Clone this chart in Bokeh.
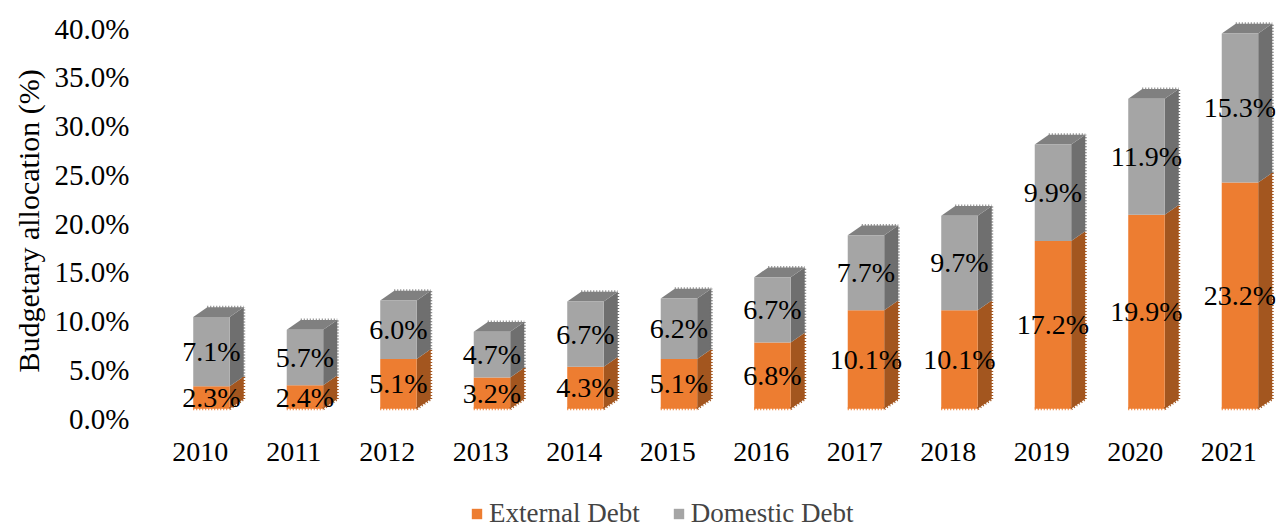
from bokeh.plotting import figure
from bokeh.models import ColumnDataSource, FixedTicker, PrintfTickFormatter, Legend, LegendItem, Title
from bokeh.core.properties import value
from bokeh.embed import file_html
from bokeh.resources import INLINE

# ---- data ----
years = ["2010", "2011", "2012", "2013", "2014", "2015", "2016", "2017", "2018", "2019", "2020", "2021"]
external = [2.3, 2.4, 5.1, 3.2, 4.3, 5.1, 6.8, 10.1, 10.1, 17.2, 19.9, 23.2]
domestic = [7.1, 5.7, 6.0, 4.7, 6.7, 6.2, 6.7, 7.7, 9.7, 9.9, 11.9, 15.3]
y_ticks = [0, 5, 10, 15, 20, 25, 30, 35, 40]

# ---- style ----
FONT = "Liberation Serif"
PX_PER_UNIT = 9.75
BASE = 1.0    # floor offset of 3D bars
OFF = 0.12    # front-face offset from slot centre
W = 0.39      # front-face width
DX = 0.15     # depth (x)
DY = 1.0      # depth (y)
YEAR_Y = -3.4  # position of category labels below the floor
ORANGE, ORANGE_SIDE = "#ED7D31", "#A3561F"
GRAY, GRAY_SIDE, GRAY_TOP = "#A5A5A5", "#6F6F6F", "#808080"

n = len(years)
xc = [i + 0.5 + OFF for i in range(n)]
left = [x - W / 2 for x in xc]
right = [x + W / 2 for x in xc]
ext_bot = [BASE] * n
ext_top = [BASE + e for e in external]
dom_bot = ext_top
dom_top = [BASE + e + d for e, d in zip(external, domestic)]

p = figure(width=1283, height=529, x_range=(0, 12),
           y_range=(-(529 - 418) / PX_PER_UNIT, 418 / PX_PER_UNIT),
           x_axis_location=None,
           output_backend="svg", toolbar_location=None,
           min_border_left=153, min_border_right=8, min_border_top=0, min_border_bottom=0)


def side(bot, top):
    xs = [[r, r + DX, r + DX, r] for r in right]
    ys = [[b, b + DY, t + DY, t] for b, t in zip(bot, top)]
    return xs, ys


xs, ys = side(ext_bot, ext_top)
p.patches(xs, ys, fill_color=ORANGE_SIDE, line_color=None)
xs, ys = side(dom_bot, dom_top)
p.patches(xs, ys, fill_color=GRAY_SIDE, line_color=None)
top_xs = [[l, l + DX, r + DX, r] for l, r in zip(left, right)]
top_ys = [[t, t + DY, t + DY, t] for t in dom_top]
p.patches(top_xs, top_ys, fill_color=GRAY_TOP, line_color=None)

r_ext = p.quad(left=left, right=right, bottom=ext_bot, top=ext_top, fill_color=ORANGE, line_color=None)
r_dom = p.quad(left=left, right=right, bottom=dom_bot, top=dom_top, fill_color=GRAY, line_color=None)

# jagged outer edges (as in the reference rendering)
DASH = dict(line_width=3, line_dash="1 2")
p.segment(x0=left, y0=ext_bot, x1=right, y1=ext_bot, line_color=ORANGE, **DASH)
p.segment(x0=right, y0=ext_bot, x1=[r + DX for r in right], y1=[b + DY for b in ext_bot],
          line_color=ORANGE_SIDE, **DASH)
p.segment(x0=[r + DX for r in right], y0=[b + DY for b in ext_bot],
          x1=[r + DX for r in right], y1=[t + DY for t in ext_top], line_color=ORANGE_SIDE, **DASH)
p.segment(x0=[r + DX for r in right], y0=[b + DY for b in dom_bot],
          x1=[r + DX for r in right], y1=[t + DY for t in dom_top], line_color=GRAY_SIDE, **DASH)
p.segment(x0=[l + DX for l in left], y0=[t + DY for t in dom_top],
          x1=[r + DX for r in right], y1=[t + DY for t in dom_top], line_color=GRAY_TOP, **DASH)

lab_src = ColumnDataSource(dict(
    x=xc + xc,
    y=[(b + t) / 2 for b, t in zip(ext_bot, ext_top)] + [(b + t) / 2 for b, t in zip(dom_bot, dom_top)],
    t=[f"{v:.1f}%" for v in external] + [f"{v:.1f}%" for v in domestic],
))
p.text(x="x", y="y", text="t", source=lab_src, text_align="center", text_baseline="middle",
       text_font=value(FONT), text_font_size="28px", text_color="black")

# category labels
p.text(x=[i + 0.5 for i in range(n)], y=[YEAR_Y] * n, text=years, text_align="center",
       text_baseline="middle", text_font=value(FONT), text_font_size="28px", text_color="black")

# axes
p.xgrid.visible = False
p.ygrid.visible = False
p.outline_line_color = None
ax = p.yaxis[0]
ax.axis_line_color = None
ax.major_tick_line_color = None
ax.minor_tick_line_color = None
ax.major_tick_out = 0
ax.major_label_text_font = FONT
ax.major_label_text_font_size = "29px"
ax.major_label_text_color = "black"
ax.ticker = FixedTicker(ticks=y_ticks)
ax.formatter = PrintfTickFormatter(format="%.1f%%")
ax.major_label_standoff = 24

# y-axis title (as a side title so it can be centred on the value range)
ytitle = Title(text="Budgetary allocation (%)", align="left", offset=157,
               text_font=FONT, text_font_size="30px", text_font_style="normal",
               text_color="black", standoff=14)
p.add_layout(ytitle, "left")

legend = Legend(items=[LegendItem(label="External Debt", renderers=[r_ext]),
                       LegendItem(label="Domestic Debt", renderers=[r_dom])],
                orientation="horizontal", location=(317, 0),
                label_text_font=FONT, label_text_font_size="27px",
                glyph_width=13, glyph_height=13, label_standoff=6, spacing=32,
                padding=0, margin=0, border_line_color=None, background_fill_alpha=0)
p.add_layout(legend, "center")

open("out.html", "w").write(file_html(p, INLINE))
